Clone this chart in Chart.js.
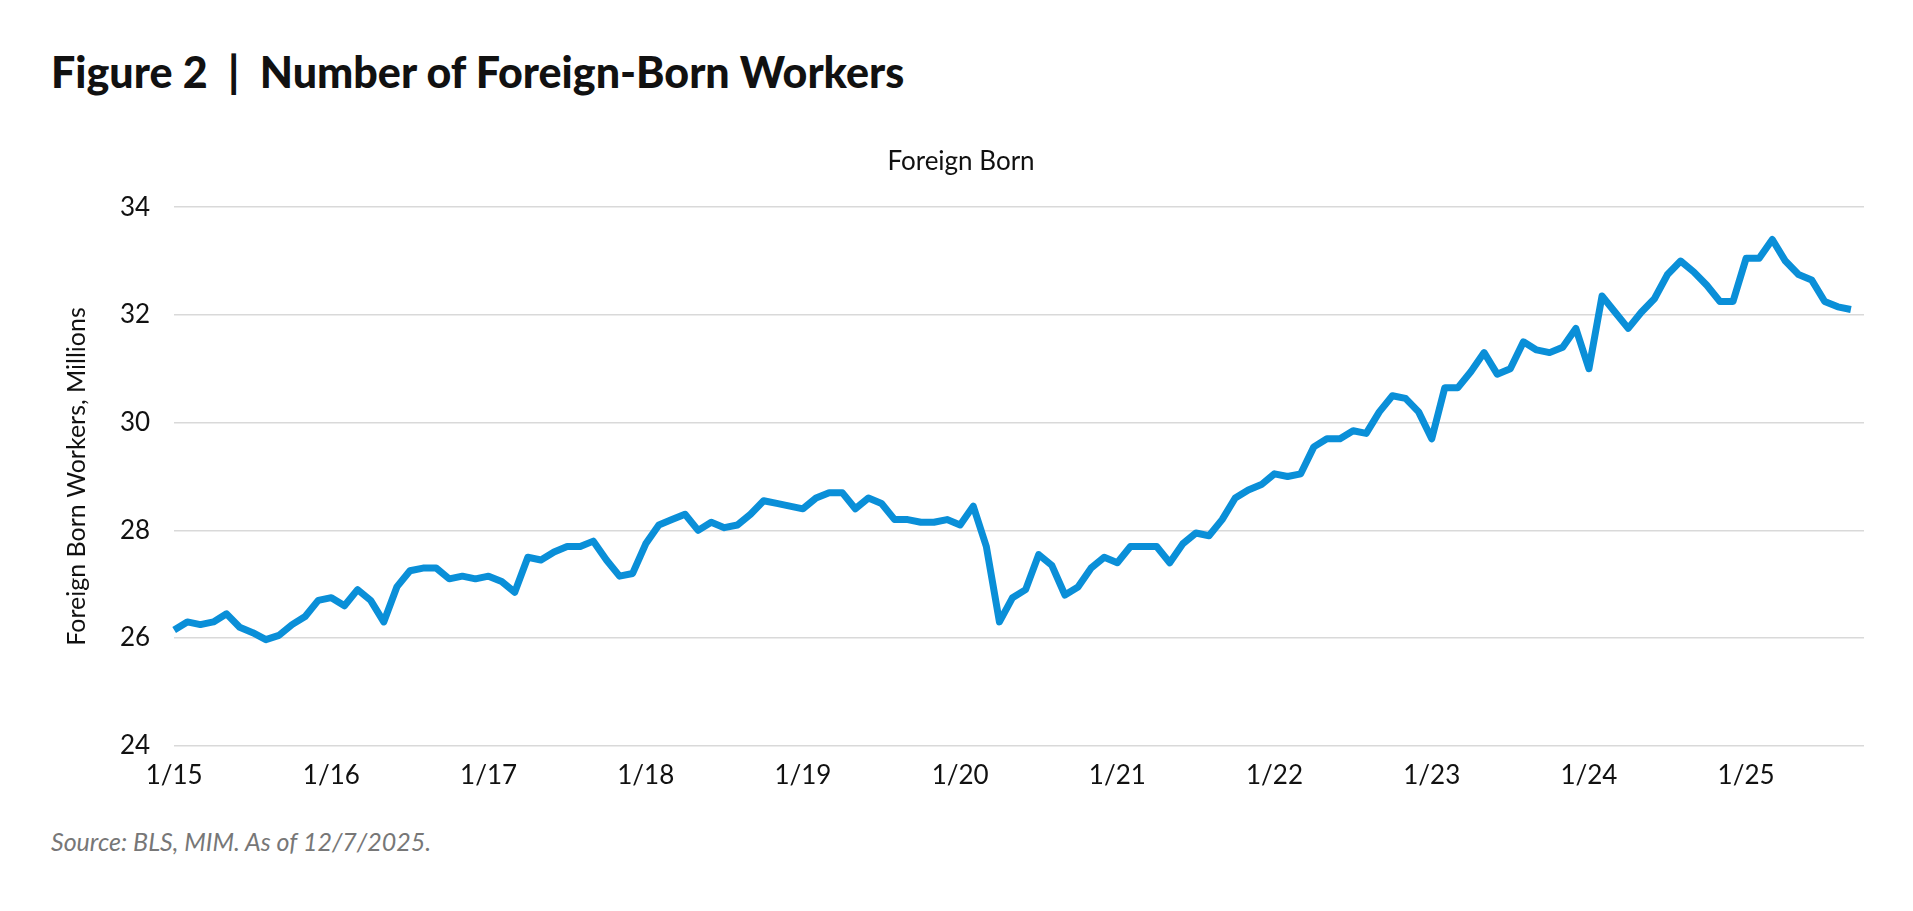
<!DOCTYPE html>
<html><head><meta charset="utf-8">
<script src="https://cdn.jsdelivr.net/npm/chart.js@4"></script>
<style>
body{margin:0;background:#fff;font-family:Lato,"Open Sans",sans-serif;}
#h{position:absolute;left:51px;top:46px;font-size:43px;font-weight:900;color:#111;}
#s{position:absolute;left:51px;top:826px;font-size:25px;font-style:italic;color:#777;}
#c{position:absolute;left:0;top:0;width:1913px;height:911px;}
</style></head><body>
<div id="h">Figure 2 &nbsp;|&nbsp; Number of Foreign-Born Workers</div>
<div id="s">Source: BLS, MIM. As of 12/7/2025.</div>
<div id="c"><canvas id="cv"></canvas></div>
<script>
const years=[15,16,17,18,19,20,21,22,23,24,25];
const y2015=[26.15,26.3,26.25,26.3,26.45,26.2,26.1,25.97,26.05,26.25,26.4,26.7];
const y2016=[26.75,26.6,26.9,26.7,26.3,26.95,27.25,27.3,27.3,27.1,27.15,27.1];
const y2017=[27.15,27.05,26.85,27.5,27.45,27.6,27.7,27.7,27.8,27.45,27.15,27.2];
const y2018=[27.75,28.1,28.2,28.3,28.0,28.15,28.05,28.1,28.3,28.55,28.5,28.45];
const y2019=[28.4,28.6,28.7,28.7,28.4,28.6,28.5,28.2,28.2,28.15,28.15,28.2];
const y2020=[28.1,28.45,27.7,26.3,26.75,26.9,27.55,27.35,26.8,26.95,27.3,27.5];
const y2021=[27.4,27.7,27.7,27.7,27.4,27.75,27.95,27.9,28.2,28.6,28.75,28.85];
const y2022=[29.05,29.0,29.05,29.55,29.7,29.7,29.85,29.8,30.2,30.5,30.45,30.2];
const y2023=[29.7,30.65,30.65,30.95,31.3,30.9,31.0,31.5,31.35,31.3,31.4,31.75];
const y2024=[31.0,32.35,32.05,31.75,32.05,32.3,32.75,33.0,32.8,32.55,32.25,32.25];
const y2025=[33.05,33.05,33.4,33.0,32.75,32.65,32.25,32.15,32.1];
const values=[].concat(y2015,y2016,y2017,y2018,y2019,y2020,y2021,y2022,y2023,y2024,y2025,[null]);
const labels=[];
years.forEach(y=>{for(let m=1;m<=12;m++)labels.push(m+'/'+y);});
labels.length=values.length;
new Chart(document.getElementById('cv'),{type:'line',
data:{labels:labels,datasets:[{label:'Foreign Born',data:values,borderColor:'#0a8fd8',borderWidth:7,pointRadius:0,tension:0,fill:false,borderJoinStyle:'round'}]},
options:{responsive:true,maintainAspectRatio:false,animation:false,
layout:{padding:{left:58,right:49,top:138,bottom:114}},
plugins:{legend:{display:false},tooltip:{enabled:false},
title:{display:true,text:'Foreign Born',color:'#111',font:{family:'Lato',size:26,weight:'normal'},padding:{top:8,bottom:30}}},
scales:{
x:{offset:false,grid:{display:false},border:{display:false},
ticks:{autoSkip:false,maxRotation:0,color:'#111',font:{family:'Lato',size:26},padding:6,
callback:function(v,i){const l=labels[i];return l&&l.startsWith('1/')?l:'';}}},
y:{min:24,max:34,grid:{color:'#d9d9d9',lineWidth:1.5,drawTicks:false},border:{display:false},
ticks:{stepSize:2,color:'#111',font:{family:'Lato',size:26},padding:24},
title:{display:true,text:'Foreign Born Workers, Millions',color:'#111',font:{family:'Lato',size:25}}}}}});
</script></body></html>
